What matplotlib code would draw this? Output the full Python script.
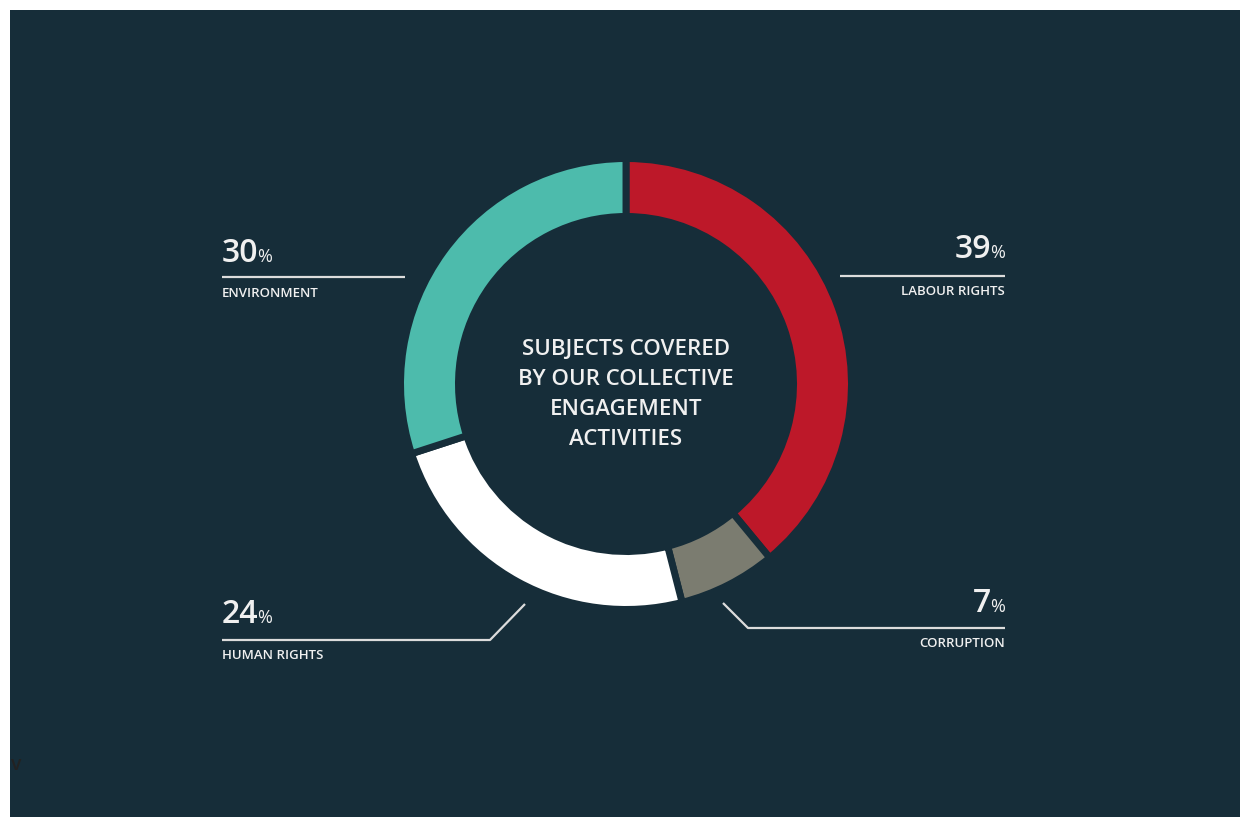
import matplotlib
matplotlib.use("Agg")
import matplotlib.pyplot as plt
from matplotlib.patches import Rectangle

# ---- data ----
categories = ["LABOUR RIGHTS", "CORRUPTION", "HUMAN RIGHTS", "ENVIRONMENT"]
values = [39, 7, 24, 30]
colors = ["#bd1829", "#7b7c70", "#ffffff", "#4dbbac"]
center_lines = ["SUBJECTS COVERED", "BY OUR COLLECTIVE", "ENGAGEMENT", "ACTIVITIES"]

BG = "#162d39"
TXT = "#f0f0f0"
LINE = "#dcdcdc"
FONT = "Open Sans"

W, H = 1240, 817
fig = plt.figure(figsize=(W / 100, H / 100), dpi=100, facecolor="white")
ax = fig.add_axes([0, 0, 1, 1])

def Y(py):
    return H - py

cx, cy = 626, Y(384)
gap_pt = 5
gap_px = gap_pt * 100 / 72
R_out = 222 + gap_px / 2
ring = 51 + gap_px

ax.pie(values, colors=colors, startangle=90, counterclock=False,
       center=(cx, cy), radius=R_out,
       wedgeprops=dict(width=ring, edgecolor=BG, linewidth=gap_pt))
ax.add_patch(Rectangle((10, 0), W - 10, H - 10, facecolor=BG, edgecolor="none", zorder=-5))
ax.set_xlim(0, W)
ax.set_ylim(0, H)
ax.set_aspect("equal")
ax.axis("off")

# center title
for i, line in enumerate(center_lines):
    ax.text(626, Y(349 + 30 * i), line, ha="center", va="center",
            color=TXT, fontsize=16, family=FONT, fontweight="semibold")

fig.canvas.draw()
renderer = fig.canvas.get_renderer()
inv = ax.transData.inverted()

def pct_label(x, ybase, value, align):
    big, small = 23, 13
    if align == "left":
        t = ax.text(x, Y(ybase), str(value), ha="left", va="baseline",
                    color=TXT, fontsize=big, family=FONT, fontweight="semibold")
        bb = t.get_window_extent(renderer)
        x1 = inv.transform((bb.x1, 0))[0]
        ax.text(x1 - 1, Y(ybase), "%", ha="left", va="baseline",
                color=TXT, fontsize=small, family=FONT)
    else:
        p = ax.text(x, Y(ybase), "%", ha="right", va="baseline",
                    color=TXT, fontsize=small, family=FONT)
        bb = p.get_window_extent(renderer)
        x0 = inv.transform((bb.x0, 0))[0]
        ax.text(x0 + 1, Y(ybase), str(value), ha="right", va="baseline",
                color=TXT, fontsize=big, family=FONT, fontweight="semibold")

def name_label(x, ybase, s, align):
    ax.text(x, Y(ybase), s, ha=align, va="baseline", color=TXT,
            fontsize=9.5, family=FONT, fontweight="semibold")

def leader(xs, ys):
    ax.plot(xs, [Y(v) for v in ys], color=LINE, lw=1.6, solid_capstyle="butt")

# Environment (values[3])
pct_label(222, 262, values[3], "left")
leader([222, 405], [277, 277])
name_label(222, 297, categories[3], "left")

# Labour rights (values[0])
pct_label(1005, 258, values[0], "right")
leader([840, 1005], [276, 276])
name_label(1005, 295, categories[0], "right")

# Human rights (values[2])
pct_label(222, 623, values[2], "left")
leader([222, 490, 525], [640, 640, 604])
name_label(222, 659, categories[2], "left")

# Corruption (values[1])
pct_label(1005, 612, values[1], "right")
leader([723, 748, 1005], [603, 628, 628])
name_label(1005, 647, categories[1], "right")

# stray glyph bottom-left
ax.text(11, Y(770), "v", ha="left", va="baseline", color="#222222",
        fontsize=14, family=FONT, fontweight="semibold")

fig.savefig("out.png", dpi=100, facecolor="white")
